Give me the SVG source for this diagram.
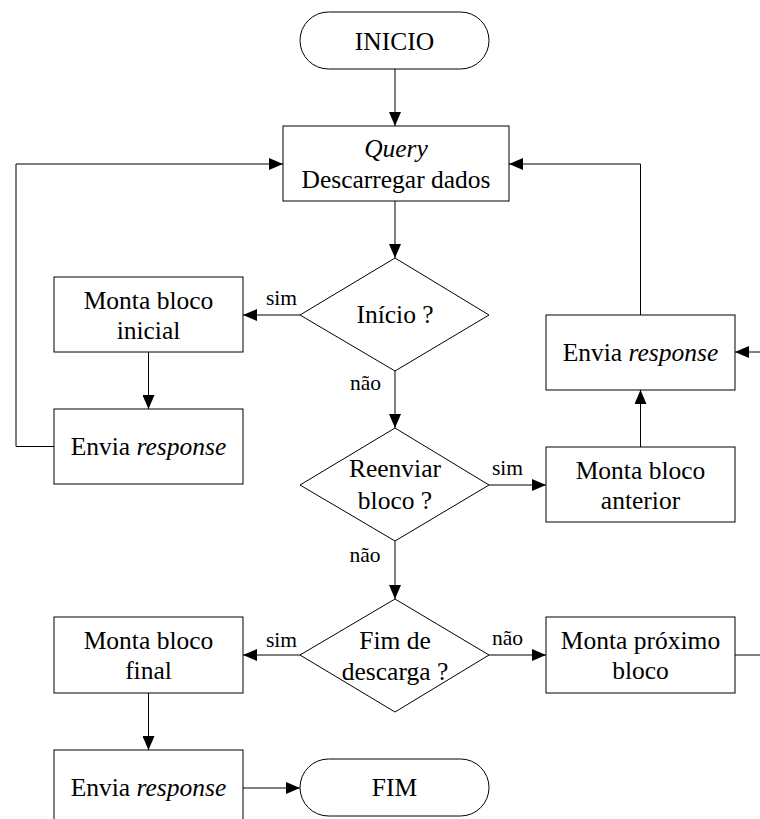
<svg xmlns="http://www.w3.org/2000/svg" width="760" height="819" viewBox="0 0 760 819" font-family="Liberation Serif, DejaVu Serif, serif">
<style>
.s{fill:#fff;stroke:#000;stroke-width:1}
.t{font-family:"Liberation Serif","DejaVu Serif",serif;font-size:25.5px;fill:#000;text-anchor:middle}
.l{font-family:"Liberation Serif","DejaVu Serif",serif;font-size:21.5px;fill:#000;text-anchor:middle}
.i{font-style:italic}
.c{fill:none;stroke:#000;stroke-width:1}
</style>
<defs>
<marker id="a" viewBox="0 0 14 12" refX="14" refY="6" markerWidth="14" markerHeight="12" markerUnits="userSpaceOnUse" orient="auto">
<path d="M0,0 L14,6 L0,12 Z" fill="#000"/>
</marker>
</defs>
<rect width="760" height="819" fill="#fff"/>
<g id="connectors">
<path class="c" d="M395,69 V126" marker-end="url(#a)"/>
<path class="c" d="M395,201 V258" marker-end="url(#a)"/>
<path class="c" d="M300,315 H243" marker-end="url(#a)"/>
<path class="c" d="M148.5,352 V409" marker-end="url(#a)"/>
<path class="c" d="M54,446.5 H16 V164 H283" marker-end="url(#a)"/>
<path class="c" d="M395,371 V428" marker-end="url(#a)"/>
<path class="c" d="M489,485 H546" marker-end="url(#a)"/>
<path class="c" d="M640.5,447 V390" marker-end="url(#a)"/>
<path class="c" d="M640.5,315 V164 H509" marker-end="url(#a)"/>
<path class="c" d="M395,541 V599" marker-end="url(#a)"/>
<path class="c" d="M300,655 H243" marker-end="url(#a)"/>
<path class="c" d="M489,655 H546" marker-end="url(#a)"/>
<path class="c" d="M148.5,693 V750" marker-end="url(#a)"/>
<path class="c" d="M243,788 H300" marker-end="url(#a)"/>
<path class="c" d="M735,655 H775 V352 H735" marker-end="url(#a)"/>
<text class="l" x="281.5" y="305">sim</text>
<text class="l" x="365.5" y="390">não</text>
<text class="l" x="507.5" y="475">sim</text>
<text class="l" x="365" y="562">não</text>
<text class="l" x="281.5" y="646.5">sim</text>
<text class="l" x="507.5" y="645">não</text>
</g>
<g id="inicio">
<rect class="s" x="300" y="12" width="189" height="57" rx="28.5" ry="28.5"/>
<text class="t" x="394.5" y="49.5">INICIO</text>
</g>
<g id="query">
<rect class="s" x="283" y="126" width="226" height="75"/>
<text class="t i" x="396" y="156.5">Query</text>
<text class="t" x="396" y="188">Descarregar dados</text>
</g>
<g id="dec-inicio">
<polygon class="s" points="395,258 489,315 395,371 300,315"/>
<text class="t" x="395" y="323">Início ?</text>
</g>
<g id="monta-inicial">
<rect class="s" x="54" y="277" width="189" height="75"/>
<text class="t" x="148.5" y="309">Monta bloco</text>
<text class="t" x="148.5" y="338.5">inicial</text>
</g>
<g id="envia-1">
<rect class="s" x="54" y="409" width="189" height="75"/>
<text class="t" x="148.5" y="454.5"><tspan>Envia </tspan><tspan class="i">response</tspan></text>
</g>
<g id="dec-reenviar">
<polygon class="s" points="395,428 489,485 395,541 300,485"/>
<text class="t" x="395" y="477">Reenviar</text>
<text class="t" x="395" y="508.5">bloco ?</text>
</g>
<g id="envia-2">
<rect class="s" x="546" y="315" width="189" height="75"/>
<text class="t" x="640.5" y="360.5"><tspan>Envia </tspan><tspan class="i">response</tspan></text>
</g>
<g id="monta-anterior">
<rect class="s" x="546" y="447" width="189" height="75"/>
<text class="t" x="640.5" y="478.5">Monta bloco</text>
<text class="t" x="640.5" y="508.5">anterior</text>
</g>
<g id="dec-fim">
<polygon class="s" points="395,599 489,655 395,712 300,655"/>
<text class="t" x="395" y="648.5">Fim de</text>
<text class="t" x="395" y="679.5">descarga ?</text>
</g>
<g id="monta-final">
<rect class="s" x="54" y="617" width="189" height="76"/>
<text class="t" x="148.5" y="648.5">Monta bloco</text>
<text class="t" x="148.5" y="678.5">final</text>
</g>
<g id="monta-proximo">
<rect class="s" x="546" y="617" width="189" height="76"/>
<text class="t" x="640.5" y="648.5">Monta próximo</text>
<text class="t" x="640.5" y="678.5">bloco</text>
</g>
<g id="envia-3">
<rect class="s" x="54" y="750" width="189" height="75"/>
<text class="t" x="148.5" y="795.5"><tspan>Envia </tspan><tspan class="i">response</tspan></text>
</g>
<g id="fim">
<rect class="s" x="300" y="759" width="189" height="57" rx="28.5" ry="28.5"/>
<text class="t" x="394.5" y="795.5">FIM</text>
</g>
</svg>
